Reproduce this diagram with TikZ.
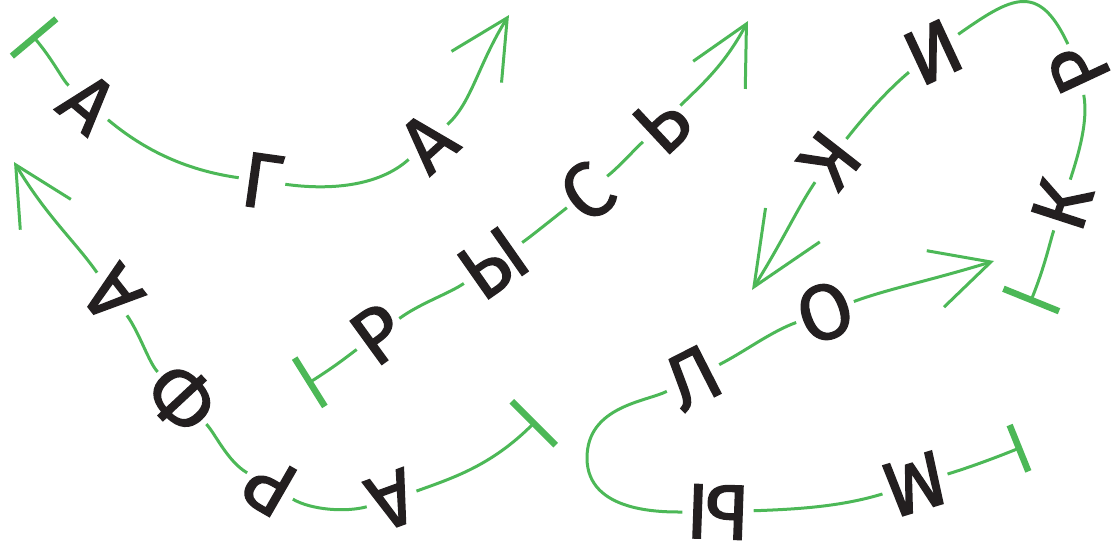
\documentclass[tikz,border=0pt]{standalone}
\usepackage{fontspec}
\newfontfamily\lf{Fira Sans}[FakeBold=1.8]
\usetikzlibrary{arrows.meta}
\definecolor{gr}{HTML}{4CB857}
\definecolor{ink}{HTML}{231F20}
\begin{document}
\begin{tikzpicture}[x=1pt,y=1pt,
  ln/.style={gr, line width=3pt},
  lt/.style={text=ink, font=\lf\fontsize{78}{80}\selectfont, inner sep=3.5pt},
  barstart/.style={{Bar[width=#1,line width=6.5pt]}-},
  barbend/.style={-{Straight Barb[length=58pt,width=59pt]}}]
\useasboundingbox (0,-543) rectangle (1111,0);

% --- letters ---
% АГА
\node[lt, rotate=-40] (a1) at (88,-103) {А};
\node[lt, rotate=-8]  (g1) at (262,-181) {Г};
\node[lt, rotate=42]  (a2) at (428,-142) {А};
% РЫСЬ
\node[lt, rotate=36] (r1) at (378,-334) {Р};
\node[lt, rotate=35] (y1) at (493,-263) {Ы};
\node[lt, rotate=38] (s1) at (587,-192) {С};
\node[lt, rotate=43] (z1) at (662,-124) {Ь};
% КРИК
\node[lt, rotate=72]  (k1) at (1062,-205) {К};
\node[lt, rotate=115] (r2) at (1079,-68) {Р};
\node[lt, rotate=205] (i1) at (933,-52) {И};
\node[lt, rotate=232] (k2) at (830,-160) {К};
% МЫЛО
\node[lt, rotate=197] (m2) at (915,-484) {М};
\node[lt, rotate=178] (y2) at (718,-512) {Ы};
\node[lt, rotate=27]  (l2) at (693,-378) {Л};
\node[lt, rotate=20]  (o2) at (825,-312) {О};
% АРФА
\node[lt, rotate=200] (a3) at (392,-500) {А};
\node[lt, rotate=150] (r3) at (270,-486) {Р};
\node[lt, rotate=133] (f3) at (182,-398) {Ф};
\node[lt, rotate=128] (a4) at (112,-294) {А};

% --- end points ---
\coordinate (b1) at (32,-35);
\coordinate (t1) at (509,-15);
\coordinate (b2) at (307,-384);
\coordinate (t2) at (748,-21);
\coordinate (b3) at (1030,-303);
\coordinate (t3) at (752,-290);
\coordinate (b4) at (1022,-447);
\coordinate (w4) at (587,-458);
\coordinate (t4) at (994,-261);
\coordinate (b5) at (536,-421);
\coordinate (t5) at (14,-162);

% --- connectors ---
% АГА
\draw[ln, barstart=58pt] (b1) .. controls +(-50:34) and +(138:34) .. (a1);
\draw[ln] (a1) .. controls +(-40:75) and +(172:75) .. (g1)
               .. controls +(-8:67) and +(222:67) .. (a2);
\draw[ln, barbend] (a2) .. controls +(42:59) and +(238:59) .. (t1);
% РЫСЬ
\draw[ln, barstart=57pt] (b2) .. controls +(32:34) and +(216:34) .. (r1);
\draw[ln] (r1) .. controls +(36:53) and +(215:53) .. (y1)
               .. controls +(35:46) and +(218:46) .. (s1)
               .. controls +(38:40) and +(223:40) .. (z1);
\draw[ln, barbend] (z1) .. controls +(45:52) and +(242:52) .. (t2);
% КРИК
\draw[ln, barstart=60pt] (b3) .. controls +(68:40) and +(252:40) .. (k1);
\draw[ln] (k1) .. controls +(72:54) and +(280:54) .. (r2)
               .. controls +(115:96) and +(35:96) .. (i1)
               .. controls +(220:58) and +(52:58) .. (k2);
\draw[ln, -{Straight Barb[length=73pt,width=64pt]}] (k2) .. controls +(236:59) and +(58:59) .. (t3);
% МЫЛО
\draw[ln, barstart=50pt] (b4) .. controls +(202:44) and +(17:44) .. (m2);
\draw[ln] (m2) .. controls +(197:78) and +(2:78) .. (y2)
               .. controls +(180:55) and +(-90:55) .. (w4)
               .. controls +(90:52) and +(207:52) .. (l2)
               .. controls +(27:58) and +(200:58) .. (o2);
\draw[ln, barbend] (o2) .. controls +(20:69) and +(197:69) .. (t4);
% АРФА
\draw[ln, barstart=62pt] (b5) .. controls +(225:64) and +(20:64) .. (a3);
\draw[ln] (a3) .. controls +(195:48) and +(330:48) .. (r3)
               .. controls +(150:49) and +(313:49) .. (f3)
               .. controls +(133:49) and +(305:49) .. (a4);
\draw[ln, barbend] (a4) .. controls +(125:64) and +(301:64) .. (t5);
\end{tikzpicture}
\end{document}
